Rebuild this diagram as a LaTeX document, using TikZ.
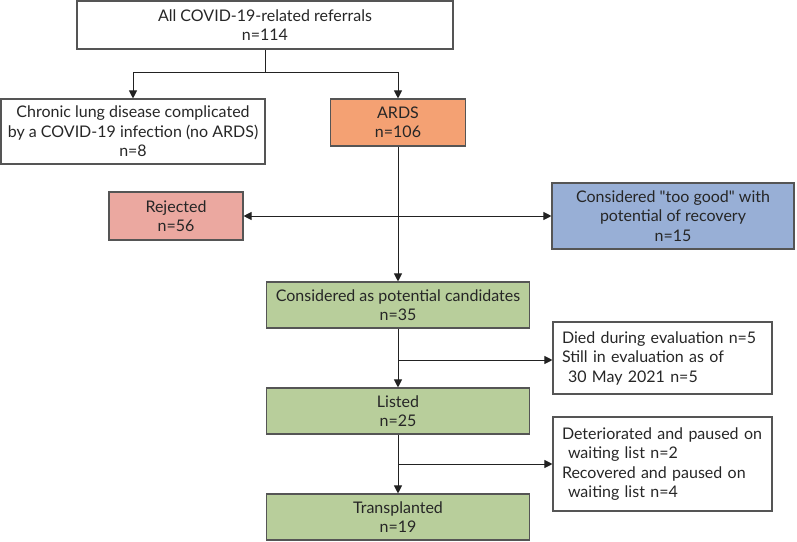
\documentclass[tikz,border=0pt]{standalone}
\usepackage{fontspec}
\setmainfont{Lato}
\usetikzlibrary{arrows.meta}
\definecolor{ardsc}{HTML}{F4A173}
\definecolor{rejc}{HTML}{EBA8A0}
\definecolor{goodc}{HTML}{98AFD6}
\definecolor{greenc}{HTML}{B8CE9B}
\definecolor{edgec}{HTML}{555555}
\definecolor{linec}{HTML}{222222}
\tikzset{
  box/.style={draw=edgec, line width=1.1pt, align=center, inner sep=2pt,
    font=\fontsize{16}{19.5}\selectfont, text=black!85},
  conn/.style={draw=linec, line width=1pt},
  arr/.style={conn, -{Triangle[length=8pt,width=8pt]}},
  arr2/.style={conn, {Triangle[length=8pt,width=8pt]}-{Triangle[length=8pt,width=8pt]}}
}
\begin{document}
\begin{tikzpicture}[x=1pt,y=-1pt]
\useasboundingbox (0,0) rectangle (797,541);
\node[box, minimum width=376pt, minimum height=48pt] (top) at (265,25) {All COVID-19-related referrals\\n=114};
\node[box, minimum width=264pt, minimum height=65pt] (chronic) at (133,131.5) {Chronic lung disease complicated\\by a COVID-19 infection (no ARDS)\\n=8};
\node[box, fill=ardsc, minimum width=135pt, minimum height=47pt] (ards) at (398,122.5) {ARDS\\n=106};
\node[box, fill=rejc, minimum width=134pt, minimum height=48pt] (rej) at (176,216) {Rejected\\n=56};
\node[box, fill=goodc, minimum width=242pt, minimum height=66pt] (good) at (673,216) {Considered \textquotedbl too good\textquotedbl{} with\\potential of recovery\\n=15};
\node[box, fill=greenc, minimum width=263pt, minimum height=46pt] (cand) at (398,305) {Considered as potential candidates\\n=35};
\node[box, fill=greenc, minimum width=263pt, minimum height=46pt] (listed) at (398,411) {Listed\\n=25};
\node[box, fill=greenc, minimum width=263pt, minimum height=46pt] (trans) at (398,517) {Transplanted\\n=19};
\node[box, align=left, minimum width=219pt, minimum height=72pt, text width=201pt, inner xsep=9pt] (died) at (662.5,358) {Died during evaluation n=5\\Still in evaluation as of\\\hspace*{6pt}30 May 2021 n=5};
\node[box, align=left, minimum width=219pt, minimum height=94pt, text width=201pt, inner xsep=9pt] (det) at (662.5,464) {Deteriorated and paused on\\\hspace*{6pt}waiting list n=2\\Recovered and paused on\\\hspace*{6pt}waiting list n=4};
\coordinate (s1) at (265,72);
\coordinate (b2) at (398,360);
\coordinate (b3) at (398,464);
\draw[conn] (top.south) -- (s1);
\draw[arr] (s1) -| (chronic.north);
\draw[arr] (s1) -| (ards.north);
\draw[arr] (ards.south) -- (cand.north);
\draw[arr2] (rej.east) -- (good.west);
\draw[arr] (cand.south) -- (listed.north);
\draw[arr] (b2) -- (died.west |- b2);
\draw[arr] (listed.south) -- (trans.north);
\draw[arr] (b3) -- (det.west |- b3);
\end{tikzpicture}
\end{document}
